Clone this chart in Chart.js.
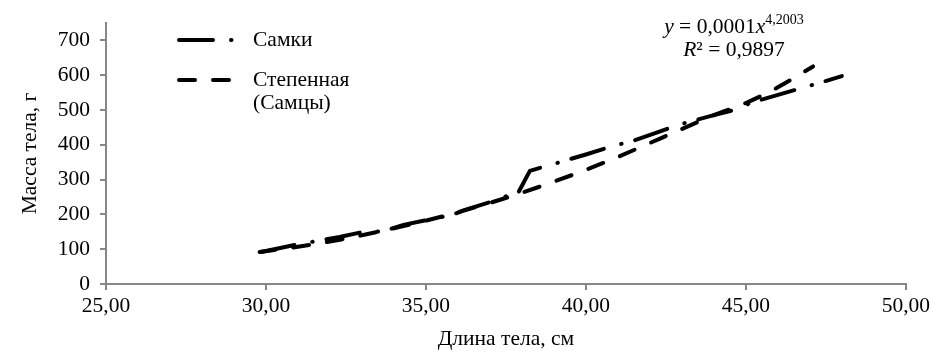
<!DOCTYPE html>
<html>
<head>
<meta charset="utf-8">
<script src="https://cdn.jsdelivr.net/npm/chart.js@4.4.0/dist/chart.umd.min.js"></script>
<style>
  html, body { margin: 0; padding: 0; background: #fff; }
  #wrap { width: 933px; height: 352px; }
</style>
</head>
<body>
<div id="wrap"><canvas id="massChart" width="933" height="352"></canvas></div>
<script>
// Самки: длина тела (см) и масса (г)
const femaleLength = [29.85, 30.9, 31.5, 32.3, 33.2, 33.6, 34.3, 35.8, 36.2, 37.0, 37.9, 38.25, 39.0, 40.0, 40.8, 41.5, 42.3, 43.0, 44.0, 44.6, 45.2, 46.3, 47.2, 48.0];
const femaleMass   = [92, 112, 122, 135, 153, 150, 170, 198, 212, 235, 265, 325, 345, 372, 395, 412, 438, 460, 485, 499, 522, 551, 575, 597];

// Степенная (Самцы) trend line
const trendLength = [29.8, 31, 32, 33, 34, 35, 36, 37, 38, 39, 40, 41, 42, 43, 44, 45, 46, 47.1];
const trendMass   = [92, 107, 122, 140, 160, 182, 206, 233, 262, 294, 328, 365, 405, 445, 485, 520, 565, 625];

const xTicks = [25, 30, 35, 40, 45, 50];
const yTicks = [0, 100, 200, 300, 400, 500, 600, 700];

const legendLabels = ['Самки', ['Степенная', '(Самцы)']];

const FONT = '"Liberation Serif", "Times New Roman", serif';
const SIZE = 21.5;
const AXIS = '#878787';
const dashDot = [34, 18, 0.5, 14];
const dashed = [16, 18];

function toPoints(xs, ys) {
    return xs.map((x, i) => ({ x: x, y: ys[i] }));
}

// draws a run of [text, font] pieces centred on cx
function drawPieces(ctx, pieces, cx, y) {
    let total = 0;
    pieces.forEach(p => { ctx.font = p[1]; total += ctx.measureText(p[0]).width; });
    let x = cx - total / 2;
    pieces.forEach(p => {
        ctx.font = p[1];
        ctx.fillText(p[0], x, y + (p[2] || 0));
        x += ctx.measureText(p[0]).width;
    });
}

// legend + equation drawn on top of the plot
const extras = {
    id: 'extras',
    afterDraw: function(chart) {
        const ctx = chart.ctx;
        ctx.save();
        ctx.strokeStyle = '#000';
        ctx.lineWidth = 4;
        ctx.lineCap = 'round';

        // legend line samples
        ctx.setLineDash(dashDot);
        ctx.beginPath();
        ctx.moveTo(179, 40);
        ctx.lineTo(233, 40);
        ctx.stroke();

        ctx.setLineDash(dashed);
        ctx.beginPath();
        ctx.moveTo(179, 80);
        ctx.lineTo(230, 80);
        ctx.stroke();
        ctx.setLineDash([]);

        ctx.fillStyle = '#000';
        ctx.font = SIZE + 'px ' + FONT;
        ctx.textBaseline = 'middle';
        ctx.textAlign = 'left';
        ctx.fillText(legendLabels[0], 253, 40);
        ctx.fillText(legendLabels[1][0], 253, 80);
        ctx.fillText(legendLabels[1][1], 253, 103);

        // equation of the trend line
        const reg = SIZE + 'px ' + FONT, ital = 'italic ' + SIZE + 'px ' + FONT;
        drawPieces(ctx, [['y', ital], [' = 0,0001', reg], ['x', ital], ['4,2003', '14px ' + FONT, -7]], 734, 27);
        drawPieces(ctx, [['R', ital], ['² = 0,9897', reg]], 734, 50);
        ctx.restore();
    }
};

const chart = new Chart(document.getElementById('massChart').getContext('2d'), {
    type: 'scatter',
    data: {
        datasets: [{
            label: 'Самки',
            data: toPoints(femaleLength, femaleMass),
            showLine: true,
            borderColor: '#000',
            borderWidth: 4,
            borderDash: dashDot,
            borderCapStyle: 'round',
            pointRadius: 0,
            tension: 0
        }, {
            label: 'Степенная (Самцы)',
            data: toPoints(trendLength, trendMass),
            showLine: true,
            borderColor: '#000',
            borderWidth: 4,
            borderDash: dashed,
            borderCapStyle: 'round',
            pointRadius: 0,
            cubicInterpolationMode: 'monotone'
        }]
    },
    plugins: [extras],
    options: {
        responsive: false,
        animation: false,
        layout: { padding: { left: 0, right: 25, top: 17, bottom: 0 } },
        plugins: {
            legend: { display: false },
            tooltip: { enabled: false }
        },
        scales: {
            x: {
                type: 'linear',
                min: 25,
                max: 50,
                afterFit: function(scale) { scale.height = 68; },
                afterBuildTicks: function(scale) { scale.ticks = xTicks.map(v => ({ value: v })); },
                border: { color: AXIS, width: 2 },
                grid: { display: true, drawOnChartArea: false, color: AXIS, lineWidth: 2, tickLength: 6 },
                ticks: {
                    color: '#000',
                    font: { family: FONT, size: SIZE },
                    padding: 3,
                    maxRotation: 0,
                    callback: function(value) { return value.toFixed(2).replace('.', ','); }
                },
                title: {
                    display: true,
                    text: 'Длина тела, см',
                    color: '#000',
                    font: { family: FONT, size: SIZE },
                    padding: { top: 0, bottom: 0 }
                }
            },
            y: {
                type: 'linear',
                min: 0,
                max: 750,
                afterFit: function(scale) { scale.width = 106; },
                afterBuildTicks: function(scale) { scale.ticks = yTicks.map(v => ({ value: v })); },
                border: { color: AXIS, width: 2 },
                grid: { display: true, drawOnChartArea: false, color: AXIS, lineWidth: 2, tickLength: 6 },
                ticks: {
                    color: '#000',
                    font: { family: FONT, size: SIZE },
                    padding: 10
                },
                title: {
                    display: true,
                    text: 'Масса тела, г',
                    color: '#000',
                    font: { family: FONT, size: SIZE },
                    padding: { top: 17, bottom: 0 }
                }
            }
        }
    }
});
</script>
</body>
</html>
